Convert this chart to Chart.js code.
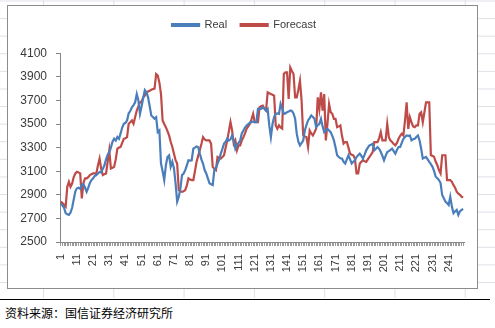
<!DOCTYPE html>
<html>
<head>
<meta charset="utf-8">
<script src="https://cdn.jsdelivr.net/npm/chart.js@4"></script>
<style>
  html, body { margin: 0; padding: 0; background: #fff; }
  body { width: 495px; height: 328px; position: relative; overflow: hidden; }
  #sheet {
    position: absolute; left: 0; top: 0; width: 495px; height: 298px;
    background-image:
      linear-gradient(to right, #dde0e6 1px, transparent 1px),
      linear-gradient(to bottom, #dde0e6 1px, transparent 1px);
    background-size: 70.3px 17.6px;
    background-position: 43px 0.5px;
  }
  #box {
    position: absolute; left: 7px; top: 5px; width: 469px; height: 282px;
    background: #fff; border: 1px solid #8c8c8c;
  }
  #box canvas { position: absolute; left: 0; top: 0; }
  #rule { position: absolute; left: 0; top: 299px; width: 490px; height: 1px; background: #000; }
  #source {
    position: absolute; left: 5px; top: 304px;
    font: 12px "Noto Sans CJK SC", sans-serif; color: #000;
  }
</style>
</head>
<body>
<div id="sheet"></div>
<div id="box"><canvas id="chart" width="469" height="282"></canvas></div>
<div id="rule"></div>
<div id="source">资料来源：国信证券经济研究所</div>
<script>
// series, one value per trading period (1..250)
const real = [
  2828, 2810, 2790, 2745, 2735, 2730, 2750, 2790, 2860, 2930,
  2955, 2960, 2950, 2985, 2990, 2960, 2926, 2960, 3000, 3025,
  3040, 3060, 3067, 3080, 3094, 3090, 3120, 3150, 3200, 3240,
  3263, 3300, 3350, 3375, 3360, 3390, 3375, 3420, 3470, 3502,
  3510, 3530, 3591, 3610, 3642, 3660, 3684, 3754, 3700, 3586,
  3650, 3720, 3788, 3770, 3726, 3650, 3572, 3560, 3545, 3557,
  3431, 3445, 3165, 3100, 3025, 3150, 3221, 3235, 3137, 3180,
  3125, 3000, 2842, 2884, 2950, 3067, 3080, 3109, 3150, 3193,
  3190, 3193, 3291, 3300, 3310, 3305, 3250, 3200, 3165, 3110,
  3081, 3040, 2997, 2990, 2983, 3109, 3130, 3165, 3200, 3249,
  3290, 3334, 3350, 3375, 3360, 3370, 3403, 3360, 3291, 3320,
  3340, 3360, 3420, 3445, 3470, 3488, 3500, 3510, 3516, 3520,
  3516, 3516, 3628, 3628, 3628, 3640, 3630, 3614, 3628, 3488,
  3389, 3500, 3560, 3586, 3590, 3586, 3670, 3630, 3586, 3590,
  3600, 3605, 3614, 3610, 3590, 3544, 3418, 3350, 3319, 3340,
  3360, 3445, 3490, 3530, 3550, 3572, 3560, 3544, 3473, 3490,
  3500, 3544, 3480, 3431, 3445, 3459, 3445, 3431, 3400, 3361,
  3300, 3235, 3220, 3210, 3207, 3180, 3165, 3200, 3235, 3200,
  3165, 3180, 3193, 3220, 3235, 3249, 3230, 3207, 3240, 3277,
  3300, 3319, 3325, 3333, 3277, 3290, 3305, 3290, 3263, 3230,
  3193, 3230, 3263, 3270, 3280, 3291, 3270, 3249, 3280, 3305,
  3305, 3340, 3375, 3390, 3403, 3400, 3403, 3361, 3370, 3375,
  3390, 3403, 3361, 3290, 3207, 3215, 3221, 3200, 3179, 3160,
  3137, 3100, 3053, 3040, 3025, 3000, 2898, 2870, 2842, 2830,
  2814, 2884, 2800, 2744, 2760, 2772, 2730, 2760, 2772, 2780
];
const forecast = [
  2842, 2830, 2815, 2800, 2968, 3010, 2968, 2995, 3050, 3081,
  3095, 3090, 3081, 2870, 3000, 3039, 3039, 3050, 3067, 3075,
  3081, 3081, 3081, 3150, 3207, 3120, 3067, 3075, 3081, 3180,
  3277, 3123, 3130, 3137, 3200, 3291, 3300, 3305, 3340, 3375,
  3380, 3389, 3502, 3515, 3530, 3502, 3560, 3614, 3650, 3684,
  3690, 3726, 3740, 3768, 3775, 3782, 3790, 3796, 3800, 3923,
  3910, 3850, 3754, 3530, 3500, 3473, 3440, 3403, 3350, 3305,
  3250, 3193, 3165, 2940, 2930, 2926, 2930, 2940, 2980, 3039,
  3030, 3025, 3025, 3100, 3179, 3230, 3277, 3330, 3389, 3370,
  3361, 3361, 3361, 3333, 3137, 3120, 3109, 3221, 3215, 3207,
  3220, 3235, 3300, 3361, 3440, 3516, 3445, 3333, 3361, 3277,
  3319, 3319, 3360, 3389, 3420, 3460, 3480, 3502, 3540, 3586,
  3516, 3516, 3516, 3642, 3650, 3656, 3630, 3614, 3768, 3760,
  3754, 3748, 3740, 3488, 3460, 3488, 3470, 3460, 3923, 3937,
  3937, 3712, 3979, 3950, 3923, 3726, 3726, 3790, 3866, 3698,
  3403, 3395, 3389, 3305, 3445, 3420, 3403, 3430, 3460, 3726,
  3628, 3768, 3614, 3754, 3361, 3500, 3670, 3600, 3586, 3544,
  3544, 3473, 3480, 3488, 3400, 3334, 3347, 3347, 3300, 3249,
  3240, 3235, 3207, 3081, 3081, 3165, 3180, 3193, 3185, 3179,
  3200, 3221, 3240, 3263, 3347, 3347, 3347, 3380, 3431, 3361,
  3361, 3361, 3502, 3389, 3360, 3347, 3330, 3319, 3340, 3375,
  3400, 3418, 3403, 3530, 3684, 3459, 3558, 3516, 3480, 3473,
  3488, 3488, 3586, 3600, 3516, 3600, 3684, 3684, 3684, 3235,
  3230, 3221, 3180, 3151, 3110, 3081, 3235, 3235, 3235, 3025,
  3025, 3025, 3010, 2982, 2960, 2926, 2910, 2900, 2884, 2880
];
const periods = real.map((v, i) => i + 1);
const yTicks = [2500, 2700, 2900, 3100, 3300, 3500, 3700, 3900, 4100];

const textColor = '#3a3a3a';
const axisColor = '#868686';

// nudge the legend a little right of the plot centre
const legendShift = {
  id: 'legendShift',
  afterLayout(chart) {
    chart.legend.left += 8;
    chart.legend.right += 8;
  }
};

new Chart(document.getElementById('chart'), {
  type: 'line',
  plugins: [legendShift],
  data: {
    labels: periods,
    datasets: [
      { label: 'Real', data: real, borderColor: '#4a7ebb', backgroundColor: '#4a7ebb',
        borderWidth: 2.2, pointRadius: 0, tension: 0 },
      { label: 'Forecast', data: forecast, borderColor: '#be4b48', backgroundColor: '#be4b48',
        borderWidth: 2.2, pointRadius: 0, tension: 0 }
    ]
  },
  options: {
    responsive: false,
    animation: false,
    layout: { padding: { top: 0, right: 13, left: 0, bottom: 0 } },
    plugins: {
      tooltip: { enabled: false },
      legend: {
        position: 'top',
        weight: 3000,
        labels: {
          boxWidth: 27, boxHeight: 2, padding: 13.5,
          color: textColor,
          font: { family: 'Liberation Sans', size: 11 }
        }
      },
      // empty title used as a spacer between legend and plot
      title: {
        display: true, text: '',
        font: { size: 1 },
        padding: { top: 0, bottom: 11.5 }
      }
    },
    scales: {
      x: {
        type: 'category',
        offset: true,
        grid: { display: true, drawOnChartArea: false, drawTicks: true, tickLength: 4, color: '#9a9a9a', offset: false },
        border: { display: true, color: axisColor },
        ticks: {
          autoSkip: false, minRotation: 90, maxRotation: 90, padding: 8,
          color: textColor,
          font: { family: 'Liberation Sans', size: 11 },
          callback: (v, i) => (i % 10 === 0 ? String(periods[i]) : '')
        },
        afterFit: (s) => { s.height = 46; s.paddingLeft = 0; s.paddingRight = 0; }
      },
      y: {
        min: 2500, max: 4100,
        afterBuildTicks: (s) => { s.ticks = yTicks.map(v => ({ value: v })); },
        grid: { display: true, drawOnChartArea: false, drawTicks: true, tickLength: 4, color: axisColor },
        border: { display: true, color: axisColor },
        ticks: {
          padding: 9, color: textColor,
          font: { family: 'Liberation Sans', size: 12 },
          callback: (v) => String(v)
        },
        afterFit: (s) => { s.width = 52; s.paddingTop = 0; s.paddingBottom = 0; }
      }
    }
  }
});
</script>
</body>
</html>
